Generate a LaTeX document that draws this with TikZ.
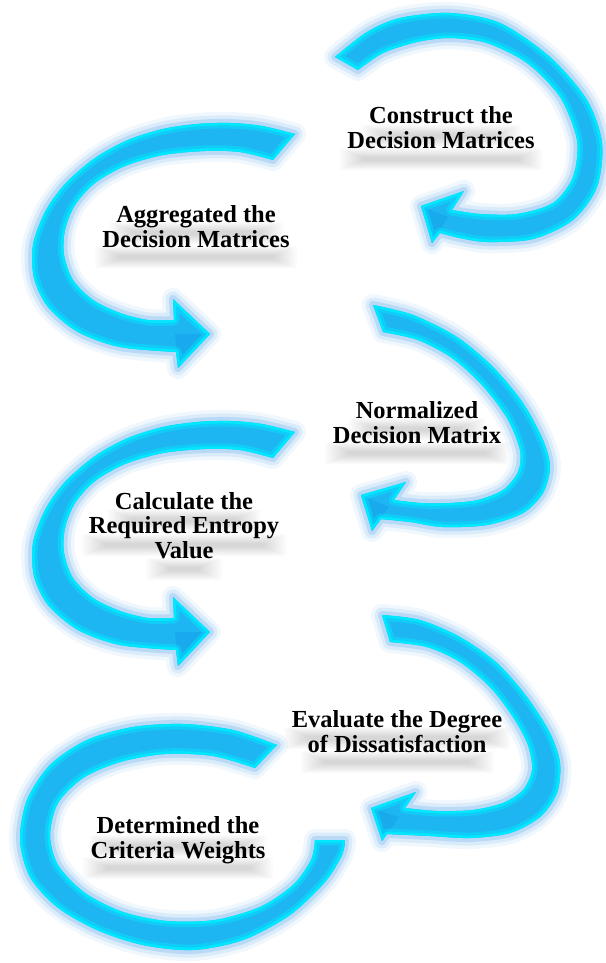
\documentclass[tikz,border=0pt]{standalone}
\usepackage{fontspec}
\setmainfont{Liberation Serif}
\definecolor{bandc}{RGB}{30,182,242}
\definecolor{edgec}{RGB}{0,232,255}
\definecolor{glowc}{RGB}{70,155,235}
\definecolor{facetc}{RGB}{15,150,225}
\newcommand\glowarrow[2]{%
 \draw[glowc, line join=round, line width=22pt, opacity=0.08] #1;
 \draw[glowc, line join=round, line width=15pt, opacity=0.13] #1;
 \draw[glowc, line join=round, line width=8pt, opacity=0.22] #1;
 \fill[bandc] #1;
 \begin{scope}
 \clip #1;
 \fill[facetc, opacity=0.35] #2;
 \draw[edgec, line join=round, line width=11pt, opacity=0.45] #1;
 \draw[edgec, line join=round, line width=5pt] #1;
 \end{scope}}
\newcommand\tshadow[3]{\foreach \k in {0,...,9}{\fill[black,opacity=0.016,rounded corners=2pt] ({#1-#3/2-8+2.5*\k},{#2-11+1*\k}) rectangle ({#1+#3/2+8-2.5*\k},{#2+11-1*\k});}}
\begin{document}
\begin{tikzpicture}[x=1pt,y=-1pt,
  lbl/.style={font=\fontsize{24.5}{24.5}\selectfont\bfseries, align=center, inner sep=0pt, text=black}]
\fill[white] (0,0) rectangle (605,963);
\useasboundingbox (0,0) rectangle (605,963);

% text shadows
\tshadow{441}{136}{143}\tshadow{441}{159}{187}
\tshadow{196}{233}{158}\tshadow{196}{257}{186}
\tshadow{417}{429}{120}\tshadow{417}{453}{169}
\tshadow{184}{520}{137}\tshadow{184}{545}{189}\tshadow{184}{569}{60}
\tshadow{397}{738}{210}\tshadow{397}{762}{177}
\tshadow{178}{846}{161}\tshadow{178}{868}{174}

% arrow 1 (top right)
\glowarrow{plot[smooth] coordinates {(335,57) (367,32) (400,18) (450,13) (500,23) (550,57) (587,100) (602,143) (597,187) (573,220) (533,239) (487,242) (460,238) (440,233)}
 -- (432,243) -- (421,206) -- (464,191) -- (452,210)
 -- plot[smooth] coordinates {(452,210) (480,214) (517,214) (553,203) (573,177) (577,140) (560,97) (527,63) (487,43) (450,38) (417,42) (383,53) (358,70)} -- cycle}
 {(421,206) -- (448,217) -- (432,243) -- cycle}

% arrow 2 (left, aggregated)
\glowarrow{plot[smooth] coordinates {(295,134) (262,126) (230,123) (197,124) (163,129) (128,140) (95,158) (65,184) (45,212) (33,245) (34,278) (48,307) (78,332) (120,347) (176,352)}
 -- (178,368) -- (210,334) -- (173,299) -- (174,320)
 -- plot[smooth] coordinates {(174,320) (148,320) (120,313) (93,300) (73,280) (64,255) (65,230) (75,205) (95,183) (125,166) (163,155) (205,151) (240,152) (273,160)} -- cycle}
 {(210,334) -- (175,334) -- (178,368) -- cycle}

% arrow 3 (right, normalized)
\glowarrow{plot[smooth] coordinates {(373,305) (413,315) (457,337) (493,367) (523,403) (543,440) (550,467) (543,493) (523,513) (487,525) (443,527) (410,522) (381,519)}
 -- (372,531) -- (361,495) -- (406,482) -- (394,500)
 -- plot[smooth] coordinates {(394,500) (420,503) (450,503) (478,500) (503,490) (518,472) (520,450) (507,418) (482,385) (452,358) (418,340) (383,332)} -- cycle}
 {(361,495) -- (389,507) -- (372,531) -- cycle}

% arrow 4 (left, entropy)
\begin{scope}[shift={(0,298)}]
\glowarrow{plot[smooth] coordinates {(295,134) (262,126) (230,123) (197,124) (163,129) (128,140) (95,158) (65,184) (45,212) (33,245) (34,278) (48,307) (78,332) (120,347) (176,352)}
 -- (178,368) -- (210,334) -- (173,299) -- (174,320)
 -- plot[smooth] coordinates {(174,320) (148,320) (120,313) (93,300) (73,280) (64,255) (65,230) (75,205) (95,183) (125,166) (163,155) (205,151) (240,152) (273,160)} -- cycle}
 {(210,334) -- (175,334) -- (178,368) -- cycle}
\end{scope}

% arrow 5 (right, dissatisfaction)
\glowarrow{plot[smooth] coordinates {(382,615) (420,620) (460,637) (497,663) (527,697) (550,733) (560,763) (557,793) (540,817) (510,833) (470,838) (430,836) (387,834)}
 -- (382,841) -- (371,808) -- (416,792) -- (405,808)
 -- plot[smooth] coordinates {(405,808) (437,811) (473,810) (503,803) (523,790) (532,770) (528,745) (513,717) (490,687) (460,662) (427,647) (390,642)} -- cycle}
 {(371,808) -- (399,817) -- (382,841) -- cycle}

% arrow 6 (bottom, weights)
\glowarrow{plot[smooth] coordinates {(277,745) (233,730) (183,724) (133,727) (87,740) (50,765) (27,800) (20,840) (30,877) (57,907) (97,930) (143,945) (193,950) (243,940) (290,915) (325,882) (342,855) (345,840)}
 -- (315,840)
 -- plot[smooth] coordinates {(315,840) (311,860) (293,885) (260,907) (215,920) (167,921) (123,912) (85,893) (58,865) (50,835) (58,803) (83,778) (120,762) (165,754) (213,756) (255,768)} -- cycle}
 {}

% labels (anchor base = baseline of last line)
\node[lbl, anchor=base] (t1) at (441,148) {Construct the\\Decision Matrices};
\node[lbl, anchor=base] (t2) at (196,247) {Aggregated the\\Decision Matrices};
\node[lbl, anchor=base] (t3) at (417,443) {Normalized\\Decision Matrix};
\node[lbl, anchor=base] (t4) at (184,558) {Calculate the\\Required Entropy\\Value};
\node[lbl, anchor=base] (t5) at (397,752) {Evaluate the Degree\\of Dissatisfaction};
\node[lbl, anchor=base] (t6) at (178,858) {Determined the\\Criteria Weights};
\end{tikzpicture}
\end{document}
